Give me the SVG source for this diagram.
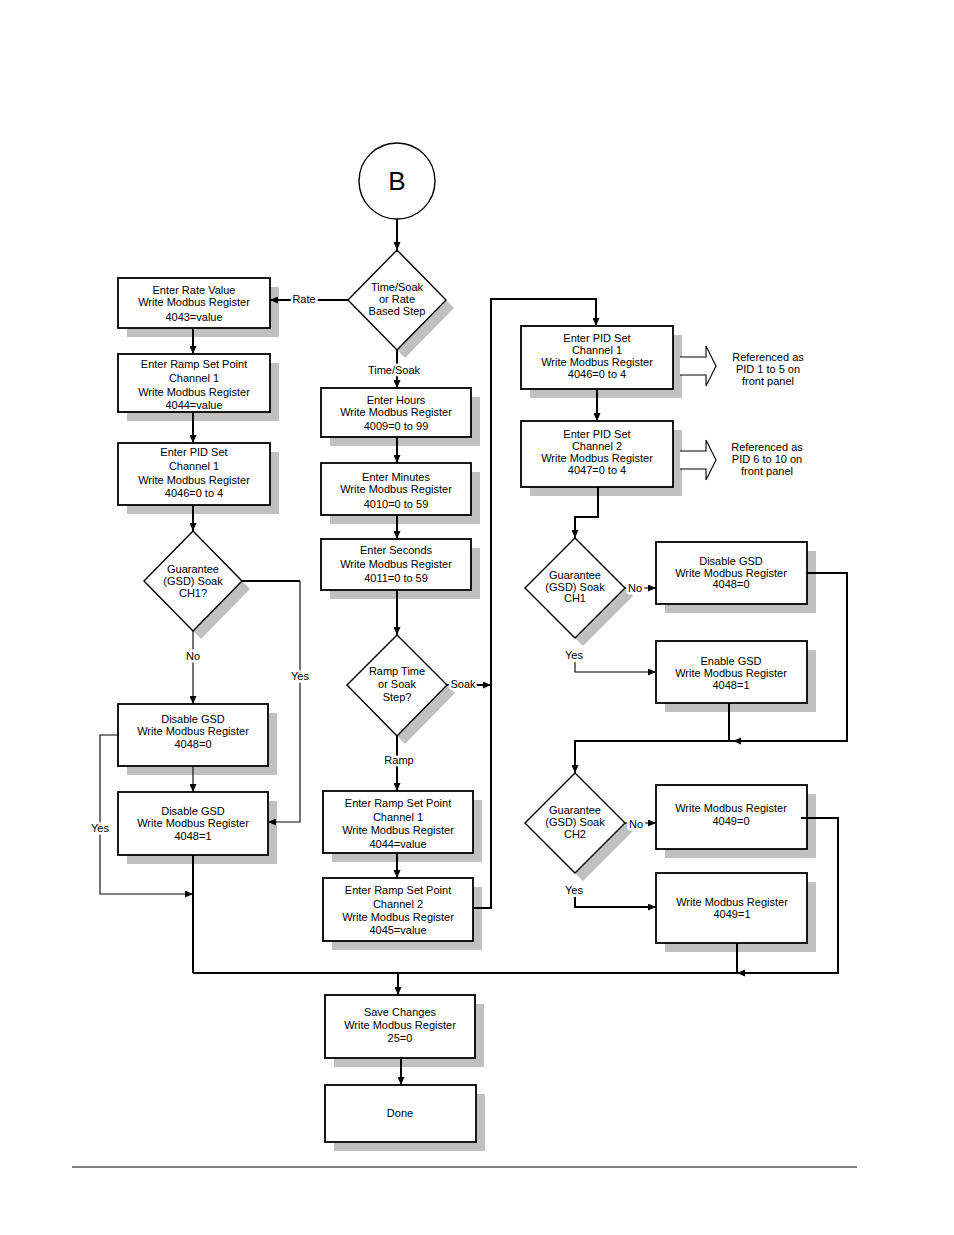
<svg xmlns="http://www.w3.org/2000/svg" width="954" height="1235" viewBox="0 0 954 1235">
<style>
text{font-family:"Liberation Sans",Arial,sans-serif;font-size:11px;fill:#000;text-anchor:middle}
.box{fill:#fff;stroke:#000;stroke-width:1.8}
.sh{fill:#c0c0c0;stroke:none}
.dia{fill:#fff;stroke:#000;stroke-width:1.4}
.k{fill:none;stroke:#000;stroke-width:2}
.t{fill:none;stroke:#000;stroke-width:1.1}
.lbl{stroke:#fff;stroke-width:5;paint-order:stroke;stroke-linejoin:round}
.big{fill:#fff;stroke:#000;stroke-width:1.1}
</style>
<defs>
<marker id="ah" viewBox="0 0 8 7" refX="8" refY="3.5" markerWidth="8" markerHeight="7" markerUnits="userSpaceOnUse" orient="auto"><path d="M0,0 L8,3.5 L0,7 z" fill="#000"/></marker>
</defs>
<rect width="954" height="1235" fill="#fff"/>

<g id="start">
<circle cx="397" cy="181" r="38" fill="#fff" stroke="#000" stroke-width="1.4"/>
<text x="397" y="190" style="font-size:26px">B</text>
</g>

<g id="d1">
<polygon class="sh" points="405,258 454,308 405,358 356,308"/>
<polygon class="dia" points="397,250 446,300 397,350 348,300"/>
<text x="397" y="291">Time/Soak</text><text x="397" y="303">or Rate</text><text x="397" y="315">Based Step</text>
</g>

<g id="l1">
<rect class="sh" x="127" y="287" width="152" height="50"/>
<rect class="box" x="118" y="278" width="152" height="50"/>
<text x="194" y="294">Enter Rate Value</text><text x="194" y="306">Write Modbus Register</text><text x="194" y="321">4043=value</text>
</g>
<g id="l2">
<rect class="sh" x="127" y="363" width="152" height="58"/>
<rect class="box" x="118" y="354" width="152" height="58"/>
<text x="194" y="368">Enter Ramp Set Point</text><text x="194" y="382">Channel 1</text><text x="194" y="396">Write Modbus Register</text><text x="194" y="409">4044=value</text>
</g>
<g id="l3">
<rect class="sh" x="127" y="452" width="152" height="62"/>
<rect class="box" x="118" y="443" width="152" height="62"/>
<text x="194" y="456">Enter PID Set</text><text x="194" y="470">Channel 1</text><text x="194" y="484">Write Modbus Register</text><text x="194" y="497">4046=0 to 4</text>
</g>
<g id="dl">
<polygon class="sh" points="201,539 250,589 201,639 152,589"/>
<polygon class="dia" points="193,531 242,581 193,631 144,581"/>
<text x="193" y="573">Guarantee</text><text x="193" y="585">(GSD) Soak</text><text x="193" y="597">CH1?</text>
</g>
<g id="l4">
<rect class="sh" x="127" y="713" width="150" height="62"/>
<rect class="box" x="118" y="704" width="150" height="62"/>
<text x="193" y="723">Disable GSD</text><text x="193" y="735">Write Modbus Register</text><text x="193" y="748">4048=0</text>
</g>
<g id="l5">
<rect class="sh" x="127" y="801" width="150" height="63"/>
<rect class="box" x="118" y="792" width="150" height="63"/>
<text x="193" y="815">Disable GSD</text><text x="193" y="827">Write Modbus Register</text><text x="193" y="840">4048=1</text>
</g>

<g id="m1">
<rect class="sh" x="330" y="397" width="150" height="49"/>
<rect class="box" x="321" y="388" width="150" height="49"/>
<text x="396" y="404">Enter Hours</text><text x="396" y="416">Write Modbus Register</text><text x="396" y="430">4009=0 to 99</text>
</g>
<g id="m2">
<rect class="sh" x="330" y="472" width="150" height="52"/>
<rect class="box" x="321" y="463" width="150" height="52"/>
<text x="396" y="481">Enter Minutes</text><text x="396" y="493">Write Modbus Register</text><text x="396" y="508">4010=0 to 59</text>
</g>
<g id="m3">
<rect class="sh" x="330" y="548" width="150" height="51"/>
<rect class="box" x="321" y="539" width="150" height="51"/>
<text x="396" y="554">Enter Seconds</text><text x="396" y="568">Write Modbus Register</text><text x="396" y="582">4011=0 to 59</text>
</g>
<g id="d2">
<polygon class="sh" points="405,643 455,693 405,744 355,693"/>
<polygon class="dia" points="397,635 447,685 397,736 347,685"/>
<text x="397" y="675">Ramp Time</text><text x="397" y="688">or Soak</text><text x="397" y="701">Step?</text>
</g>
<g id="m4">
<rect class="sh" x="332" y="800" width="150" height="62"/>
<rect class="box" x="323" y="791" width="150" height="62"/>
<text x="398" y="807">Enter Ramp Set Point</text><text x="398" y="821">Channel 1</text><text x="398" y="834">Write Modbus Register</text><text x="398" y="848">4044=value</text>
</g>
<g id="m5">
<rect class="sh" x="332" y="887" width="150" height="63"/>
<rect class="box" x="323" y="878" width="150" height="63"/>
<text x="398" y="894">Enter Ramp Set Point</text><text x="398" y="908">Channel 2</text><text x="398" y="921">Write Modbus Register</text><text x="398" y="934">4045=value</text>
</g>

<g id="r1">
<rect class="sh" x="530" y="335" width="152" height="63"/>
<rect class="box" x="521" y="326" width="152" height="63"/>
<text x="597" y="342">Enter PID Set</text><text x="597" y="354">Channel 1</text><text x="597" y="366">Write Modbus Register</text><text x="597" y="378">4046=0 to 4</text>
</g>
<g id="ref1">
<path class="big" d="M680,357 H706 V346 L716,366 L706,386 V375 H680"/>
<text x="768" y="361">Referenced as</text><text x="768" y="373">PID 1 to 5 on</text><text x="768" y="385">front panel</text>
</g>
<g id="r2">
<rect class="sh" x="530" y="430" width="152" height="66"/>
<rect class="box" x="521" y="421" width="152" height="66"/>
<text x="597" y="438">Enter PID Set</text><text x="597" y="450">Channel 2</text><text x="597" y="462">Write Modbus Register</text><text x="597" y="474">4047=0 to 4</text>
</g>
<g id="ref2">
<path class="big" d="M680,451 H706 V440 L716,460 L706,480 V469 H680"/>
<text x="767" y="451">Referenced as</text><text x="767" y="463">PID 6 to 10 on</text><text x="767" y="475">front panel</text>
</g>
<g id="dr1">
<polygon class="sh" points="583,546 633,596 583,646 533,596"/>
<polygon class="dia" points="575,538 625,588 575,638 525,588"/>
<text x="575" y="579">Guarantee</text><text x="575" y="591">(GSD) Soak</text><text x="575" y="602">CH1</text>
</g>
<g id="r3">
<rect class="sh" x="665" y="551" width="151" height="62"/>
<rect class="box" x="656" y="542" width="151" height="62"/>
<text x="731" y="565">Disable GSD</text><text x="731" y="577">Write Modbus Register</text><text x="731" y="588">4048=0</text>
</g>
<g id="r4">
<rect class="sh" x="665" y="650" width="151" height="62"/>
<rect class="box" x="656" y="641" width="151" height="62"/>
<text x="731" y="665">Enable GSD</text><text x="731" y="677">Write Modbus Register</text><text x="731" y="689">4048=1</text>
</g>
<g id="dr2">
<polygon class="sh" points="583,781 633,831 583,881 533,831"/>
<polygon class="dia" points="575,773 625,823 575,873 525,823"/>
<text x="575" y="814">Guarantee</text><text x="575" y="826">(GSD) Soak</text><text x="575" y="838">CH2</text>
</g>
<g id="r5">
<rect class="sh" x="665" y="794" width="151" height="64"/>
<rect class="box" x="656" y="785" width="151" height="64"/>
<text x="731" y="812">Write Modbus Register</text><text x="731" y="825">4049=0</text>
</g>
<g id="r6">
<rect class="sh" x="665" y="882" width="151" height="70"/>
<rect class="box" x="656" y="873" width="151" height="70"/>
<text x="732" y="906">Write Modbus Register</text><text x="732" y="918">4049=1</text>
</g>

<g id="save">
<rect class="sh" x="334" y="1004" width="150" height="63"/>
<rect class="box" x="325" y="995" width="150" height="63"/>
<text x="400" y="1016">Save Changes</text><text x="400" y="1029">Write Modbus Register</text><text x="400" y="1042">25=0</text>
</g>
<g id="done">
<rect class="sh" x="334" y="1094" width="151" height="57"/>
<rect class="box" x="325" y="1085" width="151" height="57"/>
<text x="400" y="1117">Done</text>
</g>

<g id="connectors">
<line class="k" x1="397" y1="219" x2="397" y2="250" marker-end="url(#ah)"/>
<line class="k" x1="348" y1="300" x2="270" y2="300" marker-end="url(#ah)"/>
<line class="k" x1="397" y1="350" x2="397" y2="388" marker-end="url(#ah)"/>
<line class="k" x1="397" y1="437" x2="397" y2="463" marker-end="url(#ah)"/>
<line class="k" x1="397" y1="515" x2="397" y2="539" marker-end="url(#ah)"/>
<line class="k" x1="397" y1="590" x2="397" y2="635" marker-end="url(#ah)"/>
<line class="k" x1="447" y1="685" x2="491" y2="685" marker-end="url(#ah)"/>
<line class="k" x1="397" y1="736" x2="397" y2="791" marker-end="url(#ah)"/>
<line class="k" x1="397" y1="853" x2="397" y2="878" marker-end="url(#ah)"/>
<polyline class="k" points="473,908 491,908 491,299 596,299 596,326" marker-end="url(#ah)"/>
<line class="k" x1="597" y1="389" x2="597" y2="421" marker-end="url(#ah)"/>
<polyline class="k" points="598,487 598,517 575,517 575,538" marker-end="url(#ah)"/>
<line class="t" x1="625" y1="588" x2="656" y2="588" marker-end="url(#ah)"/>
<polyline class="t" points="575,662 575,672 656,672" marker-end="url(#ah)"/>
<polyline class="k" points="807,573 847,573 847,741 575,741 575,773" marker-end="url(#ah)"/>
<polygon points="733,741 741,737.5 741,744.5" fill="#000"/>
<line class="k" x1="729" y1="703" x2="729" y2="741"/>
<line class="t" x1="625" y1="823" x2="656" y2="823" marker-end="url(#ah)"/>
<polyline class="k" points="575,897 575,907 656,907" marker-end="url(#ah)"/>
<polyline class="k" points="801,818 838,818 838,973 193,973"/>
<polygon points="737,973 745,969.5 745,976.5" fill="#000"/>
<line class="k" x1="737" y1="943" x2="737" y2="973"/>
<line class="k" x1="398" y1="973" x2="398" y2="995" marker-end="url(#ah)"/>
<line class="k" x1="401" y1="1058" x2="401" y2="1085" marker-end="url(#ah)"/>
<line class="k" x1="193" y1="328" x2="193" y2="354" marker-end="url(#ah)"/>
<line class="k" x1="193" y1="412" x2="193" y2="443" marker-end="url(#ah)"/>
<line class="k" x1="193" y1="505" x2="193" y2="531" marker-end="url(#ah)"/>
<line class="k" x1="242" y1="581" x2="300" y2="581"/>
<polyline class="t" points="300,581 300,822 268,822" marker-end="url(#ah)"/>
<line class="t" x1="193" y1="631" x2="193" y2="704" marker-end="url(#ah)"/>
<line class="t" x1="193" y1="766" x2="193" y2="792" marker-end="url(#ah)"/>
<polyline class="t" points="118,735 100,735 100,894 193,894" marker-end="url(#ah)"/>
<line class="k" x1="193" y1="855" x2="193" y2="973"/>
<text class="lbl" x="304" y="303">Rate</text>
<text class="lbl" x="394" y="374">Time/Soak</text>
<text class="lbl" x="463" y="688">Soak</text>
<text class="lbl" x="399" y="764">Ramp</text>
<text class="lbl" x="193" y="660">No</text>
<text class="lbl" x="300" y="680">Yes</text>
<text class="lbl" x="100" y="832">Yes</text>
<text class="lbl" x="635" y="592">No</text>
<text class="lbl" x="574" y="659">Yes</text>
<text class="lbl" x="636" y="828">No</text>
<text class="lbl" x="574" y="894">Yes</text>
</g>

<line x1="72" y1="1167" x2="857" y2="1167" stroke="#000" stroke-width="1"/>
</svg>
